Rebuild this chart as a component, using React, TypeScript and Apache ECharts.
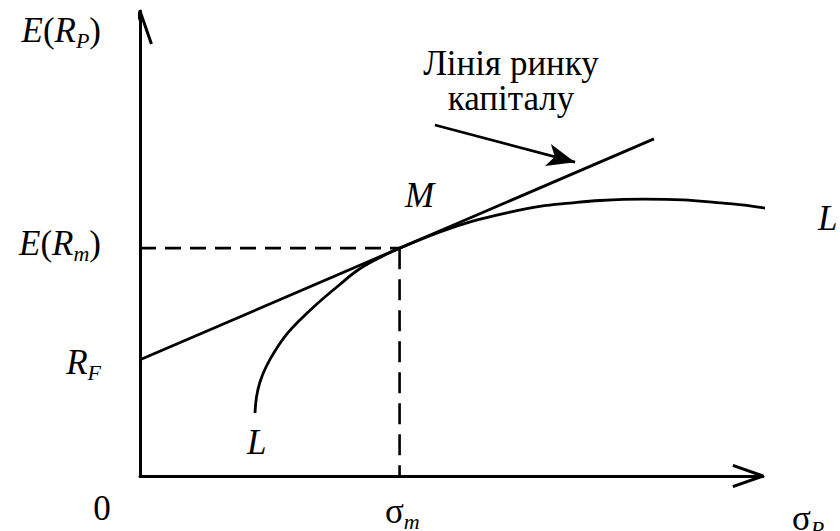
import React, { useEffect, useRef } from 'react';
import * as echarts from 'echarts';

// ---- data (chart units) ----
const xRange = [0, 12];
const yRange = [0, 10];
const cmlLine = [[0, 2.5], [9.9, 7.25]];
const frontierX = [2.215, 2.244, 2.311, 2.427, 2.6, 2.831, 3.101, 3.428, 3.814, 4.199, 4.642, 5.0, 5.78, 6.41, 7.07, 7.7, 8.28, 8.86, 9.69, 10.46, 11.11, 11.75, 12.19];
const frontierY = [1.355, 1.699, 2.022, 2.344, 2.688, 3.054, 3.376, 3.72, 4.086, 4.43, 4.71, 4.9, 5.25, 5.48, 5.66, 5.8, 5.87, 5.925, 5.955, 5.94, 5.88, 5.81, 5.73];
const marketH = [[0, 4.9], [5.0, 4.9]];
const marketV = [[5.0, 4.9], [5.0, 0]];
const annotation = [[5.68, 7.55], [8.38, 6.75]];
const yArrow = [[-0.22, 9.29], [0, 10], [0.22, 9.29]];
const xArrow = [[11.42, 0.23], [12, 0], [11.42, -0.23]];
const captionLines = ['Лінія ринку', 'капіталу'];

const FONT = '"Liberation Serif", "Times New Roman", serif';
const FS = 35;
const SUB = 22;
const C = 0.3375 * FS; // baseline offset from center

const rich = {
  i: { fontFamily: FONT, fontSize: FS, fontStyle: 'italic', lineHeight: 30, color: '#000' },
  n: { fontFamily: FONT, fontSize: FS, lineHeight: 30, color: '#000' },
  s: { fontFamily: FONT, fontSize: SUB, fontStyle: 'italic', lineHeight: 30, padding: [20, 0, 0, 0], color: '#000' },
};

function richText(x: number, baseline: number, text: string, align: string) {
  return {
    type: 'text',
    x,
    y: baseline - C,
    silent: true,
    style: { text, rich, align, verticalAlign: 'middle', fontFamily: FONT, fontSize: FS, fill: '#000' },
  };
}

function plainText(x: number, baseline: number, text: string, align: string, italic: boolean, lh?: number) {
  return {
    type: 'text',
    x,
    y: baseline - C,
    silent: true,
    style: {
      text,
      align,
      verticalAlign: 'middle',
      fontFamily: FONT,
      fontSize: FS,
      fontStyle: italic ? 'italic' : 'normal',
      lineHeight: lh ?? 30,
      fill: '#000',
    },
  };
}

const black = '#000';

export default function App() {
  const ref = useRef<HTMLDivElement>(null);
  useEffect(() => {
    document.body.style.margin = '0';
    const chart = echarts.init(ref.current!, null, { renderer: 'svg' });
    const lineSeries = (data: number[][], width: number, type: any = 'solid') => ({
      type: 'line',
      data,
      symbol: 'none',
      silent: true,
      clip: false,
      smooth: false,
      lineStyle: { color: black, width, type },
    });
    chart.setOption({
      animation: false,
      backgroundColor: '#fff',
      grid: { left: 140, top: 11, right: 77, bottom: 55 },
      xAxis: {
        type: 'value',
        min: xRange[0],
        max: xRange[1],
        axisLine: { show: true, lineStyle: { color: black, width: 3 } },
        axisTick: { show: false },
        axisLabel: { show: false },
        splitLine: { show: false },
      },
      yAxis: {
        type: 'value',
        min: yRange[0],
        max: yRange[1],
        axisLine: { show: true, lineStyle: { color: black, width: 3 } },
        axisTick: { show: false },
        axisLabel: { show: false },
        splitLine: { show: false },
      },
      series: [
        lineSeries(yArrow, 3),
        lineSeries(xArrow, 3),
        lineSeries(marketH, 2.6, [16, 9]),
        lineSeries(marketV, 2.6, [21, 10]),
        lineSeries(cmlLine, 2.8),
        {
          type: 'line',
          data: frontierX.map((x, i) => [x, frontierY[i]]),
          symbol: 'none',
          silent: true,
          clip: false,
          smooth: 0.4,
          lineStyle: { color: black, width: 2.8 },
        },
        {
          type: 'line',
          data: [],
          symbol: 'none',
          silent: true,
          markLine: {
            silent: true,
            symbol: ['none', 'arrow'],
            symbolSize: [17, 28],
            label: { show: false },
            lineStyle: { color: black, width: 2.6, type: 'solid' },
            data: [[{ coord: annotation[0] }, { coord: annotation[1] }]],
          },
        },
      ],
      graphic: [
        richText(101, 42, '{i|E}{n|(}{i|R}{s|P}{n|)}', 'right'),
        richText(101, 255, '{i|E}{n|(}{i|R}{s|m}{n|)}', 'right'),
        richText(101, 374, '{i|R}{s|F}', 'right'),
        plainText(102, 520, '0', 'center', false),
        richText(385, 523, '{n|σ}{s|m}', 'left'),
        richText(792, 530, '{n|σ}{s|P}', 'left'),
        plainText(405, 207, 'M', 'left', true),
        plainText(247, 454, 'L', 'left', true),
        plainText(818, 230, 'L', 'left', true),
        plainText(511, 92.5, captionLines.join('\n'), 'center', false, 35),
      ],
    });
    return () => chart.dispose();
  }, []);
  return <div ref={ref} style={{ width: 840, height: 531 }} />;
}
